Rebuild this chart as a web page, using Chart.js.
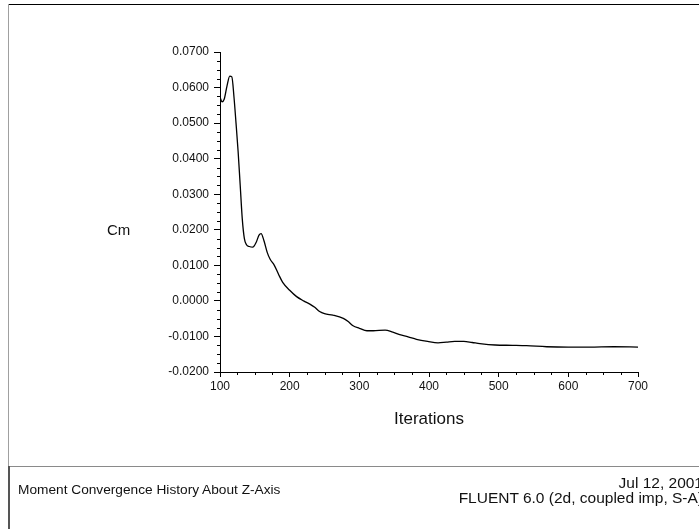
<!DOCTYPE html>
<html>
<head>
<meta charset="utf-8">
<script src="https://cdn.jsdelivr.net/npm/chart.js@4.4.0/dist/chart.umd.min.js"></script>
<style>
  body { margin: 0; background: #fff; }
  #wrap { position: relative; width: 699px; height: 529px; overflow: hidden; font-family: "Liberation Sans", Arial, sans-serif; }
  #plot { position: absolute; left: 0; top: 0; }
  .line { position: absolute; }
  .txt { position: absolute; color: #111; white-space: nowrap; }
</style>
</head>
<body>
<div id="wrap">
  <canvas id="plot" width="699" height="529"></canvas>
  <!-- frame round the page -->
  <div class="line" style="left:8px; top:4px; width:691px; height:1px; background:#000;"></div>
  <div class="line" style="left:8px; top:4px; width:1px; height:462px; background:#a0a0a0;"></div>
  <div class="line" style="left:8px; top:466px; width:691px; height:1px; background:#8a8a8a;"></div>
  <div class="line" style="left:8px; top:466px; width:2px; height:63px; background:#555;"></div>
  <div class="txt" id="ylab" style="left:107px; top:221px; font-size:15px;">Cm</div>
  <div class="txt" style="left:18px; top:482px; font-size:13.7px;">Moment Convergence History About Z-Axis</div>
  <div class="txt" style="right:-4px; top:475px; font-size:15.5px; text-align:right; line-height:15px;">Jul 12, 2001<br>FLUENT 6.0 (2d, coupled imp, S-A)</div>
</div>
<script>
var iterations = [100, 103, 106, 110, 114, 117, 120, 123, 126, 129, 132, 135, 138, 142, 147, 152, 156, 159, 163, 168,
                  172, 178, 184, 190, 200, 210, 220, 229, 236, 243, 250, 262, 277, 284, 291, 300, 311, 320, 337, 348,
                  358, 370, 382, 398, 413, 425, 437, 450, 462, 473, 495, 520, 540, 569, 600, 630, 665, 700]
var cm = [0.0573, 0.0560, 0.0567, 0.0604, 0.0632, 0.0630, 0.0575, 0.0500, 0.0420, 0.0325, 0.0230, 0.0175, 0.0158, 0.0153, 0.0151, 0.0165, 0.0185, 0.0189, 0.0170, 0.0135,
          0.0117, 0.0100, 0.0075, 0.0052, 0.0030, 0.0012, 0.0000, -0.0009, -0.0018, -0.0030, -0.0036, -0.0040, -0.0049, -0.0058, -0.0070, -0.0077, -0.0084, -0.0084, -0.0082, -0.0088,
          -0.0095, -0.0101, -0.0108, -0.0114, -0.0118, -0.0116, -0.0114, -0.0114, -0.0117, -0.0120, -0.0124, -0.0125, -0.0126, -0.0129, -0.0130, -0.0130, -0.0129, -0.0130]
var xTicks = [100, 200, 300, 400, 500, 600, 700]
var yTicks = [-0.02, -0.01, 0, 0.01, 0.02, 0.03, 0.04, 0.05, 0.06, 0.07]

var labelFont = { family: '"Liberation Sans", Arial, sans-serif', size: 12 }

var points = []
for (var i = 0; i < iterations.length; i++) {
    points.push({ x: iterations[i], y: cm[i] })
}

// short minor ticks between the labelled ones
var minorTicks = {
    id: 'minorTicks',
    afterDraw: function (chart) {
        var ctx = chart.ctx
        var xs = chart.scales.x, ys = chart.scales.y
        ctx.save()
        ctx.strokeStyle = '#000'
        ctx.lineWidth = 1
        ctx.beginPath()
        for (var v = 125; v < 700; v += 25) {
            if (v % 100 === 0) continue
            var px = Math.round(xs.getPixelForValue(v)) + 0.5
            ctx.moveTo(px, xs.top)
            ctx.lineTo(px, xs.top + 3)
        }
        for (var k = -7; k < 28; k++) {
            if (k % 4 === 0) continue
            var py = Math.round(ys.getPixelForValue(k * 0.0025)) + 0.5
            ctx.moveTo(ys.right, py)
            ctx.lineTo(ys.right - 3, py)
        }
        ctx.stroke()
        ctx.restore()
    }
}

new Chart(document.getElementById('plot').getContext('2d'), {
    type: 'line',
    data: {
        datasets: [{
            data: points,
            borderColor: '#000',
            borderWidth: 1.3,
            pointRadius: 0,
            fill: false,
            cubicInterpolationMode: 'monotone'
        }]
    },
    options: {
        responsive: false,
        animation: false,
        layout: { padding: { top: 52, right: 61, bottom: 99, left: 0 } },
        plugins: { legend: { display: false }, tooltip: { enabled: false } },
        scales: {
            x: {
                type: 'linear',
                min: 100,
                max: 700,
                afterFit: function (scale) { scale.height = 58 },
                afterBuildTicks: function (scale) {
                    scale.ticks = xTicks.map(function (v) { return { value: v } })
                },
                border: { display: true, color: '#000', width: 1 },
                grid: { drawOnChartArea: false, drawTicks: true, tickLength: 5, tickColor: '#000' },
                ticks: { color: '#111', font: labelFont, padding: 2, maxRotation: 0 },
                title: {
                    display: true,
                    text: 'Iterations',
                    color: '#111',
                    font: { family: '"Liberation Sans", Arial, sans-serif', size: 17 },
                    padding: 0
                }
            },
            y: {
                min: -0.02,
                max: 0.07,
                afterFit: function (scale) { scale.width = 220 },
                afterBuildTicks: function (scale) {
                    scale.ticks = yTicks.map(function (v) { return { value: v } })
                },
                border: { display: true, color: '#000', width: 1 },
                grid: { drawOnChartArea: false, drawTicks: true, tickLength: 6, tickColor: '#000' },
                ticks: {
                    color: '#111',
                    font: labelFont,
                    padding: 5,
                    callback: function (v) {
                        if (Math.abs(v) < 1e-9) v = 0
                        return v.toFixed(4)
                    }
                }
            }
        }
    },
    plugins: [minorTicks]
})
</script>
</body>
</html>
